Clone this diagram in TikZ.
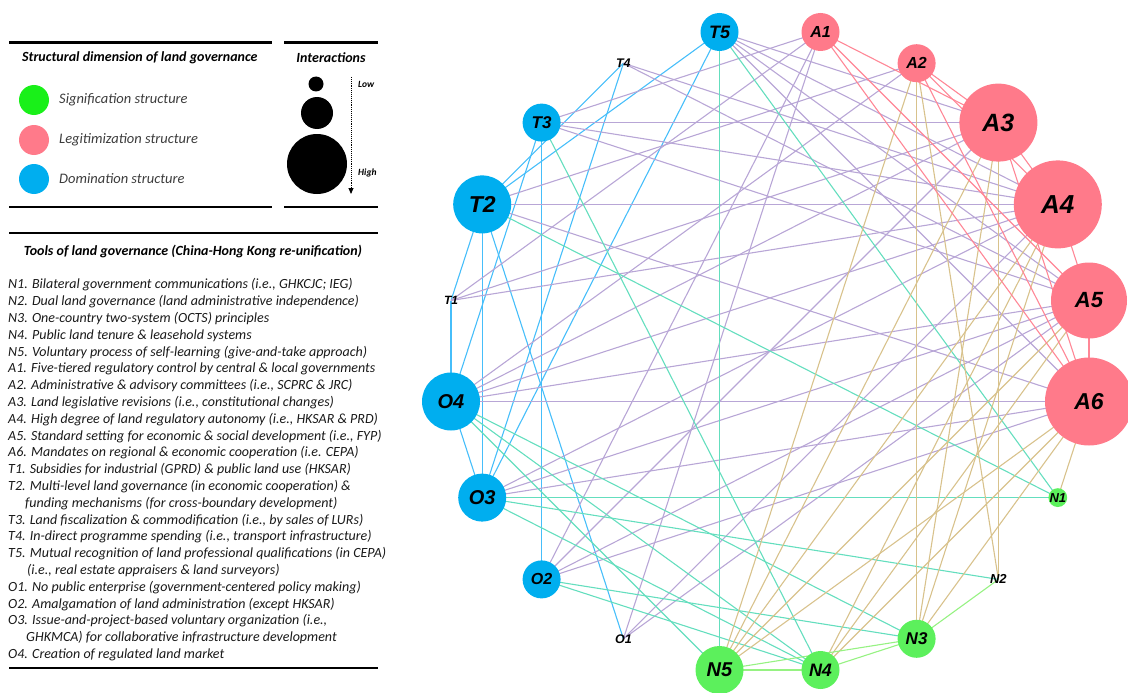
\documentclass[tikz,border=0pt]{standalone}
\usepackage{fontspec}
\setmainfont{Carlito}
\newfontfamily\labfont{Liberation Sans}
\usetikzlibrary{backgrounds,arrows.meta}
\definecolor{nblue}{RGB}{0,174,239}
\definecolor{npink}{RGB}{255,122,138}
\definecolor{ngreen}{RGB}{92,240,92}
\definecolor{lgreen}{RGB}{25,240,25}
\definecolor{eblue}{RGB}{70,190,250}
\definecolor{epurple}{RGB}{184,166,214}
\definecolor{eteal}{RGB}{100,222,190}
\definecolor{etan}{RGB}{216,194,140}
\definecolor{epink}{RGB}{255,135,150}
\definecolor{egreen}{RGB}{150,242,130}
\definecolor{txt}{RGB}{25,25,25}
\definecolor{gtxt}{RGB}{60,60,60}
\newcommand\lf[1]{\labfont\bfseries\itshape\fontsize{#1}{#1}\selectfont}
\tikzset{
  dn/.style={circle,inner sep=0pt,fill=nblue},
  ln/.style={circle,inner sep=0pt,fill=npink},
  sn/.style={circle,inner sep=0pt,fill=ngreen},
  tn/.style={inner sep=0pt},
  be/.style={draw=eblue,line width=1.1pt},
  pe/.style={draw=epurple,line width=1.1pt},
  te/.style={draw=eteal,line width=1.1pt},
  ae/.style={draw=etan,line width=1.1pt},
  ke/.style={draw=epink,line width=1.1pt},
  ge/.style={draw=egreen,line width=1.1pt},
  rule/.style={line width=2.2pt,black},
  item/.style={anchor=west,inner sep=0pt,text=txt,font=\itshape\fontsize{14}{15}\selectfont},
  hd/.style={inner sep=0pt,text=black,font=\bfseries\itshape\fontsize{14}{15}\selectfont},
  lgt/.style={anchor=west,inner sep=0pt,text=gtxt,font=\itshape\fontsize{14.5}{15}\selectfont},
  sm/.style={inner sep=0pt,text=black,font=\bfseries\itshape\fontsize{9.5}{10}\selectfont}
}
\begin{document}
\begin{tikzpicture}[x=1pt,y=-1pt]
\useasboundingbox (0,0) rectangle (1128,693);
% ---------- legend ----------
\draw[rule] (9,42.5) -- (272,42.5);
\draw[rule] (284,42.5) -- (378,42.5);
\draw[rule] (9,207) -- (272,207);
\draw[rule] (284,207) -- (378,207);
\draw[rule] (9,233) -- (378,233);
\draw[rule] (9,668) -- (378,668);
\node[hd,anchor=west] (h1) at (22,58) {Structural dimension of land governance};
\node[hd] (h2) at (331,58) {Interactions};
\node[circle,inner sep=0pt,minimum size=30pt,fill=lgreen] (lg1) at (34,100) {};
\node[circle,inner sep=0pt,minimum size=30pt,fill=npink] (lg2) at (34,140) {};
\node[circle,inner sep=0pt,minimum size=30pt,fill=nblue] (lg3) at (34,179) {};
\node[lgt] (lt1) at (59,100) {Signification structure};
\node[lgt] (lt2) at (59,140) {Legitimization structure};
\node[lgt] (lt3) at (59,179) {Domination structure};
\node[circle,inner sep=0pt,minimum size=15pt,fill=black] (ic1) at (316,84) {};
\node[circle,inner sep=0pt,minimum size=32pt,fill=black] (ic2) at (317,113) {};
\node[circle,inner sep=0pt,minimum size=60pt,fill=black] (ic3) at (317,164) {};
\coordinate (arA) at (351,77);
\coordinate (arB) at (351,194);
\draw[densely dotted,line width=0.9pt,-{Triangle[length=6pt,width=5pt]}] (arA) -- (arB);
\node[sm,anchor=west] (low) at (358,84) {Low};
\node[sm,anchor=west] (high) at (358,173) {High};
\node[hd] (h3) at (193,251) {Tools of land governance (China-Hong Kong re-unification)};
\foreach \i/\x/\t in {
 0/8/{N1. Bilateral government communications (i.e., GHKCJC; IEG)},
 1/8/{N2. Dual land governance (land administrative independence)},
 2/8/{N3. One-country two-system (OCTS) principles},
 3/8/{N4. Public land tenure \& leasehold systems},
 4/8/{N5. Voluntary process of self-learning (give-and-take approach)},
 5/8/{A1. Five-tiered regulatory control by central \& local governments},
 6/8/{A2. Administrative \& advisory committees (i.e., SCPRC \& JRC)},
 7/8/{A3. Land legislative revisions (i.e., constitutional changes)},
 8/8/{A4. High degree of land regulatory autonomy (i.e., HKSAR \& PRD)},
 9/8/{A5. Standard setting for economic \& social development (i.e., FYP)},
 10/8/{A6. Mandates on regional \& economic cooperation (i.e. CEPA)},
 11/8/{T1. Subsidies for industrial (GPRD) \& public land use (HKSAR)},
 12/8/{T2. Multi-level land governance (in economic cooperation) \&},
 13/25/{funding mechanisms (for cross-boundary development)},
 14/8/{T3. Land fiscalization \& commodification (i.e., by sales of LURs)},
 15/8/{T4. In-direct programme spending (i.e., transport infrastructure)},
 16/8/{T5. Mutual recognition of land professional qualifications (in CEPA)},
 17/27/{(i.e., real estate appraisers \& land surveyors)},
 18/8/{O1. No public enterprise (government-centered policy making)},
 19/8/{O2. Amalgamation of land administration (except HKSAR)},
 20/8/{O3. Issue-and-project-based voluntary organization (i.e.,},
 21/26/{GHKMCA) for collaborative infrastructure development},
 22/8/{O4. Creation of regulated land market}}
 { \node[item] (li\i) at (\x,285+16.8*\i) {\t}; }
% ---------- network nodes ----------
\node[dn,minimum size=38pt,font={\lf{18}}] (T5) at (719.5,32) {T5};
\node[ln,minimum size=38pt,font={\lf{16}}] (A1) at (820.5,32) {A1};
\node[ln,minimum size=38pt,font={\lf{16}}] (A2) at (916.6,63.2) {A2};
\node[ln,minimum size=78pt,font={\lf{25}}] (A3) at (998.4,122.6) {A3};
\node[ln,minimum size=88pt,font={\lf{26}}] (A4) at (1057.8,204.4) {A4};
\node[ln,minimum size=76pt,font={\lf{22}}] (A5) at (1089,300.5) {A5};
\node[ln,minimum size=88pt,font={\lf{23}}] (A6) at (1089,401.5) {A6};
\node[sn,minimum size=18pt,font={\lf{13}}] (N1) at (1057.8,497.6) {N1};
\node[tn,font={\lf{13}}] (N2) at (998.4,579.4) {N2};
\node[sn,minimum size=38pt,font={\lf{17}}] (N3) at (916.6,638.8) {N3};
\node[sn,minimum size=38pt,font={\lf{18}}] (N4) at (820.5,670) {N4};
\node[sn,minimum size=48pt,font={\lf{20}}] (N5) at (719.5,670) {N5};
\node[tn,font={\lf{12.5}}] (O1) at (623.4,638.8) {O1};
\node[dn,minimum size=38pt,font={\lf{16}}] (O2) at (541.6,579.4) {O2};
\node[dn,minimum size=48pt,font={\lf{20}}] (O3) at (482.2,497.6) {O3};
\node[dn,minimum size=58pt,font={\lf{20}}] (O4) at (451,401.5) {O4};
\node[tn,font={\lf{12}}] (T1) at (451,300.5) {T1};
\node[dn,minimum size=58pt,font={\lf{23}}] (T2) at (482.2,204.4) {T2};
\node[dn,minimum size=38pt,font={\lf{17}}] (T3) at (541.6,122.6) {T3};
\node[tn,font={\lf{12.5}}] (T4) at (623.4,63.2) {T4};
% ---------- connectors ----------
\begin{scope}[on background layer]
\foreach \a/\b in {T5/T2,T5/O3,T4/T2,T4/O3,T3/O4,T3/O2,T2/T1,T2/O3,T2/O1,T1/O4,O4/O3}
  \draw[be] (\a.center) -- (\b.center);
\foreach \a/\b in {T5/A3,T5/A4,T5/A5,T5/A6,T4/A5,T4/A4,T3/A1,T3/A3,T3/A4,T3/A5,T2/A2,T2/A4,T2/A6,T1/A1,T1/A3,T1/A4,O4/A2,O4/A3,O4/A4,O4/A5,O4/A6,O3/A4,O3/A5,O3/A6,O2/A1,O2/A3,O2/A5,O2/A6,O1/A1,O1/A4,O1/A5}
  \draw[pe] (\a.center) -- (\b.center);
\foreach \a/\b in {T5/N5,T5/N1,T2/N1,T3/N4,O3/N1,O3/N2,O3/N4,O4/N3,O4/N4,O4/N5,O2/N3,O2/N4}
  \draw[te] (\a.center) -- (\b.center);
\foreach \a/\b in {A2/N2,A2/N3,A2/N5,A3/N2,A3/N3,A3/N5,A4/N3,A4/N4,A4/N5,A5/N4,A5/N5,A6/N1,A6/N3,A6/N4,A6/N5}
  \draw[ae] (\a.center) -- (\b.center);
\foreach \a/\b in {A1/A3,A1/A5,A1/A6,A2/A3,A2/A4,A2/A6,A3/A4,A3/A6,A4/A5,A5/A6}
  \draw[ke] (\a.center) -- (\b.center);
\foreach \a/\b in {N2/N3,N3/N4,N3/N5,N4/N5}
  \draw[ge] (\a.center) -- (\b.center);
\end{scope}
\end{tikzpicture}
\end{document}
